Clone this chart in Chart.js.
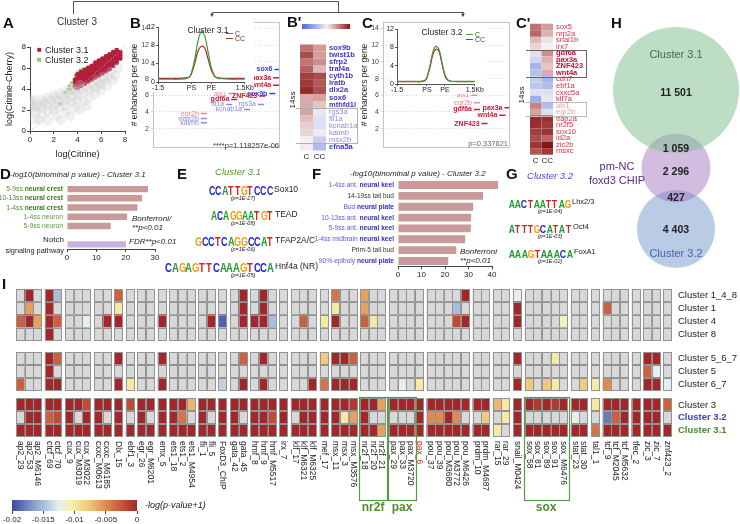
<!DOCTYPE html>
<html>
<head>
<meta charset="utf-8">
<title>Cluster 3</title>
<script src="https://cdn.jsdelivr.net/npm/chart.js@4.4.1/dist/chart.umd.min.js"></script>
<style>
  html, body { margin: 0; padding: 0; }
  body { width: 740px; height: 524px; position: relative; overflow: hidden; background: #fff;
         font-family: 'Liberation Sans', Arial, sans-serif; color: #222; }
  canvas { position: absolute; }
  .t { position: absolute; white-space: nowrap; line-height: 1; }
  .ln { position: absolute; background: #555; }
  .motif { position: absolute; white-space: nowrap; line-height: 1; }
  .motif span { display: inline-block; text-align: center; font-weight: bold; }
</style>
</head>
<body>
<script>
// ---------- A : scatter ----------
const grayCloud = [
  [0.2,2.2],[0.5,2.3],[0.8,2.5],[1.0,2.2],[1.2,2.7],[1.5,2.4],[1.8,2.9],[2.0,2.5],[2.2,3.1],[2.5,2.8],
  [2.8,3.3],[3.0,2.9],[3.2,3.6],[3.5,3.2],[3.8,3.8],[4.0,3.4],[4.3,4.0],[4.5,3.6],[4.8,4.2],[5.0,3.9],
  [5.3,4.4],[5.5,4.1],[5.8,4.6],[6.0,4.4],[6.3,4.9],[6.6,5.1],[0.5,1.8],[1.0,1.6],[1.5,1.9],[2.0,2.0],
  [2.5,2.2],[3.0,2.4],[3.5,2.7],[4.0,2.9],[1.0,3.0],[1.5,3.2],[2.0,3.4],[2.5,3.6],[3.0,3.8],[3.5,4.1],
  [0.3,1.2],[0.8,1.0],[1.5,1.0],[2.2,1.4],[3.0,1.8],[3.8,2.2],[4.5,2.8],[5.0,3.2],[5.5,3.5],[6.0,3.9],
  [6.5,4.3],[7.0,4.8],[0.1,2.6],[0.1,3.0],[0.4,2.9],[2.6,1.0],[3.4,1.4],[4.2,2.0],[4.8,2.4],[7.2,5.3],
  [6.8,5.6],[7.4,6.0],[6.2,5.2],[5.6,4.8],[4.2,4.4],[3.6,3.9]
];
const cluster31Pts = [
  [3.8,4.2],[3.8,4.6],[3.8,4.9],
  [4.0,4.1],[4.0,4.45],[4.0,4.8],[4.0,5.1],[4.0,5.4],
  [4.3,4.3],[4.3,4.65],[4.3,5.0],[4.3,5.3],[4.3,5.6],
  [4.6,4.5],[4.6,4.85],[4.6,5.2],[4.6,5.5],[4.6,5.8],
  [4.9,4.7],[4.9,5.05],[4.9,5.4],[4.9,5.7],[4.9,6.0],
  [5.2,4.9],[5.2,5.25],[5.2,5.6],[5.2,5.9],[5.2,6.2],
  [5.5,5.1],[5.5,5.5],[5.5,5.85],[5.5,6.2],[5.5,6.5],
  [5.8,5.3],[5.8,5.7],[5.8,6.05],[5.8,6.4],[5.8,6.7],
  [6.1,5.5],[6.1,5.9],[6.1,6.25],[6.1,6.6],[6.1,6.9],
  [6.4,5.7],[6.4,6.1],[6.4,6.45],[6.4,6.8],[6.4,7.1],
  [6.7,5.9],[6.7,6.3],[6.7,6.65],[6.7,7.0],[6.7,7.3],
  [7.0,6.2],[7.0,6.55],[7.0,6.9],[7.0,7.2],[7.0,7.5],
  [7.3,6.5],[7.3,6.8],[7.3,7.1],[7.3,7.4],[7.3,7.7],
  [7.6,6.9],[7.6,7.2],[7.6,7.5]
];
const cluster32Pts = [
  [3.3,4.3],[3.5,4.6],[3.7,4.8],[3.9,5.1],[4.1,5.4],[4.3,5.7],[3.6,4.3],[3.8,5.3],[4.0,5.6],[4.4,5.9],
  [3.4,4.0],[4.6,6.0],[3.2,4.0],[4.2,5.8],[2.5,2.6],[3.0,3.7]
];
const diagLine = [[0,0],[8,8]];

// ---------- B / C : enhancer profiles ----------
const profileX = [-1.5,-1.2,-0.9,-0.6,-0.3,-0.1,0,0.15,0.3,0.45,0.6,0.75,0.9,1.05,1.2,1.5,1.8,2.1,2.4];
const profileTicks = [-1.5, 0, 0.9, 2.4];
const profileTickLabels = ['-1.5', 'PS', 'PE', '1.5Kb'];
const b31C  = [0.6,0.6,0.6,0.6,0.7,1.0,2.0,5.0,9.0,11.0,10.0,6.5,3.0,1.3,0.8,0.7,0.6,0.6,0.6];
const b31CC = [0.8,0.8,0.8,0.8,0.9,1.1,1.8,4.0,6.8,7.8,7.4,5.0,2.5,1.2,0.9,0.8,0.8,0.8,0.8];
const c32C  = [0.6,0.6,0.6,0.6,0.6,0.8,1.5,4.0,7.0,8.2,7.6,4.8,2.0,0.9,0.6,0.6,0.6,0.6,0.6];
const c32CC = [0.5,0.5,0.5,0.5,0.5,0.7,1.3,3.6,6.5,7.6,7.2,4.5,1.8,0.8,0.6,0.5,0.5,0.5,0.5];

const bGenes = ['sox6','pax3a','wnt4a','sox9b','alx1','ZNF423','gdf6a','fli1a','rgs3a','kcnab1a','egr2b','msx2b','kalmb'];
const bEnh   = [9.1, 8.1, 7.2, 6.2, 6.2, 5.9, 5.5, 4.9, 4.9, 4.3, 3.8, 3.2, 2.7];
const bPos   = [0.98, 0.97, 0.97, 0.94, 0.62, 0.86, 0.64, 0.6, 0.85, 0.74, 0.4, 0.4, 0.4];
const bKind  = ['up','nc','nc','up','lo','nc','nc','dn','dn','dn','lo','dn','dn'];
const cGenes = ['alx1','egr2b','gdf6a','ZNF423','pax3a','wnt4a'];
const cEnh   = [6.0, 5.1, 4.3, 2.6, 4.5, 3.6];
const cPos   = [0.72, 0.74, 0.74, 0.8, 0.98, 0.94];
const cKind  = ['lo','lo','nc','nc','nc','nc'];

// ---------- B' / C' : heatmaps ----------
const bpGenes = ['sox9b','twist1b','sfrp2','traf4a','cyth1b','lratb','dlx2a','sox6','mthfd1l','rgs3a','fli1a','kcnab1a','kalmb','msx2b','efna5a'];
const bpC  = [5.3,6.0,5.2,5.6,6.2,6.3,6.6,4.4,4.4,4.5,4.1,3.9,3.8,3.4,3.3];
const bpCC = [4.6,4.6,4.8,4.2,6.0,5.7,5.9,4.5,4.0,3.2,3.0,3.0,3.5,2.6,2.2];
const cpGenes = ['sox5','nrp2a','snai1b','irx7','gdf6a','pax3a','ZNF423','wnt4a','cdh7','ebf1a','cxxc5a','klf7a','alx1','egr2b','tfap2a','nr2f5','sox10','id2a','zic2b','msxc'];
const cpC  = [5.3,5.5,4.2,3.8,3.0,2.8,2.0,2.3,2.6,2.4,3.0,1.8,5.0,4.5,6.6,6.5,6.2,6.0,6.4,5.8];
const cpCC = [4.6,4.3,3.6,3.4,4.8,4.3,4.0,4.4,2.0,2.2,3.0,3.2,2.2,3.0,6.5,6.3,6.4,5.5,7.5,6.3];
const heatCols = ['C', 'CC'];

// ---------- D / F : GREAT enrichments ----------
const dLabels = ['5-9ss neural crest','10-13ss neural crest','1-4ss neural crest','1-4ss neuron','5-9ss neuron','','Notch signaling pathway'];
const dValues = [27.6, 25.6, 24.0, 20.5, 14.9, null, 20.1];
const fLabels = ['1-4ss ant. neural keel','14-19ss tail bud','Bud neural plate','10-13ss ant. neural keel','5-9ss ant. neural keel','1-4ss midbrain neural keel','Prim-5 tail bud','90%-epiboly neural plate'];
const fValues = [42.6, 36.2, 32.0, 31.1, 31.0, 28.6, 24.8, 21.4];

// ---------- H : venn ----------
const vennNames = ['Cluster 3.1', 'pm-NC foxd3 CHIP', 'Cluster 3.2'];
const vennRegions = [11501, 1059, 2296, 427, 4403];
const vennCenterY = [90, 168, 229];

// ---------- I : motif heatmap ----------
const tfColumns = ['ap2_29','ap2_53','ap2_M6146','ctcf_69','ctcf_70','cux_9','cux_M3019','cux_M3022','cxxc_M0613','cxxc_M6185',
  'Dlx_15','ebf1_3','egr_26','egr_M6201','emx_5','ets1_18','ets1_2','ets1_M4954','fli_1','fli_5','FoxD3_ChIP','gata_42','gata_45',
  'hmf_8','hmf_9','hmf_M5517','irx_7','klf_17','klf_M6321','klf_M6325','mef_17','msx_11','msx_3','msx_M3576','nr2f_18','nr2f_20','nr2f_21',
  'pax_29','pax_33','pax_M3720','pax_6','pou_37','pou_39','pou_M3680','pou_M3772','pou_M6426','prdm_10','prdm_M4687','rar_15','rar_29',
  'snail_M0424','sox_58','sox_81','sox_89','sox_91','sox_M6476','stat_23','stat_30','tal1_1','tcf_9','tcf_M2045','tcf_M5632','tfec_2',
  'zic_3','zic_7','znf423_2'];
const tfGroups = [3,2,3,2,1,1,2,1,3,2,1,2,3,1,3,1,3,3,4,5,2,2,1,5,2,1,3,1,2,1];
const clusterRows = ['Cluster 1_4_8','Cluster 1','Cluster 4','Cluster 8','Cluster 5_6_7','Cluster 5','Cluster 6_7','Cluster 3','Cluster 3.2','Cluster 3.1'];
const rowBlocks = [4, 3, 3];
const N = null;
const c148 = [N,0,N, 0,-0.015, N,N,N, N,N, -0.003, N, N,N, N, N,N,N, N,N, N, N,0, N,0,N, N, N,N,N, N, -0.004,N,N, -0.006,N,N,
  N,N,N,N, N,N,N,N,0, N,N, N,N, -0.0125, N,N,N,N,N, N,N, N, N,N,N, N, N,N, N];
const c1 = [N,-0.006,N, 0,N, N,N,N, N,N, -0.01, N, N,N, N, N,N,N, N,N, N, N,0, N,0,N, N, N,N,N, N, -0.01,N,N, -0.006,N,N,
  N,N,N,N, N,N,N,-0.015,N, N,N, N,N, 0, N,N,N,N,N, N,N, N, -0.003,N,N, N, N,N, N];
const c4 = [-0.003,0,-0.006, 0,-0.003, N,N,-0.0125, N,0, 0, N, N,N, 0, N,N,N, N,0, -0.019, N,0, 0,0,-0.015, N, N,-0.003,N, -0.01, 0,N,N, -0.003,-0.01,N,
  N,N,N,N, N,N,N,-0.002,0, N,N, N,N, 0, N,N,N,N,-0.011, N,N, N, N,N,N, N, N,N, N];
const c8 = [N,N,N, 0,N, N,N,N, N,N, N, N, N,N, N, N,N,N, N,N, N, N,N, N,N,N, N, N,N,N, N, N,N,N, N,N,N,
  N,N,N,N, N,N,N,N,N, N,N, N,N, N, N,N,N,N,N, N,N, N, N,N,N, N, N,N, N];
const c567 = [N,N,N, 0,-0.003, N,N,N, N,N, 0, N, N,N, 0, N,N,N, N,N, N, N,-0.003, N,0,N, N, N,N,N, -0.008, 0,0,-0.003, N,N,N,
  N,N,N,N, N,N,N,N,N, N,N, N,N, 0, N,N,N,-0.01,N, N,N, N, N,N,N, N, 0,0, N];
const c5 = [N,N,N, 0,N, N,N,N, N,N, N, N, N,N, N, N,N,N, N,N, N, N,N, N,N,N, N, N,N,N, N, N,N,N, N,N,N,
  N,N,N,N, N,N,N,N,N, N,N, N,N, N, N,N,N,N,N, N,N, N, N,N,N, N, -0.003,-0.0125, N];
const c67 = [-0.003,N,N, 0,0, N,N,N, N,N, 0, -0.01, N,N, 0, N,N,N, N,N, -0.014, N,0, N,0,N, N, N,N,0, -0.004, 0,0,0, N,N,N,
  N,-0.0125,N,-0.01, N,N,N,N,N, N,N, N,N, 0, -0.008,N,-0.008,-0.01,N, N,-0.008, -0.01, -0.005,N,N, N, 0,0, -0.0125];
const c3 = [0,0,0, 0,0, 0,0,-0.002, 0,0, 0, -0.002, 0,0, 0, 0,0,-0.007, 0,0, 0, 0,0, 0,0,0, 0, 0,0,0, 0, 0,0,-0.001, 0,0,-0.006,
  0,0,0,0, 0,0,0,0,0, 0,0, -0.007,-0.01, 0, 0,-0.001,0,-0.001,0, 0,0, -0.01, 0,0,0, 0, 0,0, -0.003];
const c32 = [N,0,0, -0.003,-0.002, 0,N,0, 0,N, 0, N, 0,N, 0, 0,-0.004,N, 0,N, 0, 0,N, 0,0,-0.002, 0, N,0,0, 0, 0,-0.01,-0.006, 0,N,N,
  N,N,N,0, -0.005,-0.005,0,-0.005,N, N,-0.008, N,-0.01, 0, N,N,N,N,N, -0.012,N, N, -0.018,-0.003,0, 0, 0,0, N];
const c31 = [0,0,0, 0,0, 0,0,0, 0,0, 0, 0, 0,0, 0, 0,0,0, 0,0, 0, 0,0, 0,0,0, 0, 0,0,0, 0, 0,0,0, 0,0,-0.006,
  0,0,0,0, 0,0,0,0,0, 0,0, -0.01,N, 0, 0,0,0,0,0, 0,0, -0.004, 0,0,0, 0, 0,0, 0];
const heatRows = [c148, c1, c4, c8, c567, c5, c67, c3, c32, c31];
const boxedFamilies = ['nr2f', 'pax', 'sox'];
const heatTicks = [-0.02, -0.015, -0.01, -0.005, 0];

// ---------- helpers ----------
const FAMILY = "'Liberation Sans', Arial, sans-serif";
const fnt = (size, weight, style) => `${style || 'normal'} ${weight || 'normal'} ${size}px ${FAMILY}`;
Chart.defaults.font.family = FAMILY;
Chart.defaults.color = '#222';

const heatStops = [[-0.02,'#3b4d9e'],[-0.0155,'#9db4da'],[-0.0125,'#e4eff0'],[-0.0105,'#f6f2ae'],[-0.0075,'#efc277'],[-0.005,'#dd8b52'],[-0.0025,'#c55538'],[0,'#a3272a']];
const exprStops = [[0,'#4d68d8'],[2,'#a8b4ec'],[3.4,'#f4f0f2'],[5,'#c98080'],[7,'#861616']];

function hex(c) { return [1,3,5].map(i => parseInt(c.slice(i, i + 2), 16)); }
function ramp(stops, v) {
  if (v <= stops[0][0]) return stops[0][1];
  for (let i = 1; i < stops.length; i++) {
    if (v <= stops[i][0]) {
      const t = (v - stops[i-1][0]) / (stops[i][0] - stops[i-1][0]);
      const a = hex(stops[i-1][1]), b = hex(stops[i][1]);
      return `rgb(${a.map((x, k) => Math.round(x + (b[k] - x) * t)).join(',')})`;
    }
  }
  return stops[stops.length - 1][1];
}

// draws text items positioned with the chart scales
const labelsPlugin = {
  id: 'labels',
  afterDraw(chart, args, opts) {
    if (!opts.items) return;
    const ctx = chart.ctx, area = chart.chartArea;
    opts.items.forEach(it => {
      let px = it.edge === 'left' ? area.left : it.edge === 'right' ? area.right : chart.scales.x.getPixelForValue(it.x);
      let py = it.yEdge === 'bottom' ? area.bottom : chart.scales.y.getPixelForValue(it.y);
      px += it.dx || 0; py += it.dy || 0;
      const parts = it.parts || [{ text: it.text, color: it.color, font: it.font }];
      ctx.save();
      ctx.translate(px, py);
      if (it.rot) ctx.rotate(it.rot);
      if (it.sx) ctx.scale(it.sx, 1);
      ctx.textBaseline = 'middle';
      ctx.textAlign = 'left';
      let total = 0;
      parts.forEach(p => { ctx.font = p.font || it.font; total += ctx.measureText(p.text).width; });
      let x0 = it.align === 'right' ? -total : it.align === 'center' ? -total / 2 : 0;
      parts.forEach(p => {
        ctx.font = p.font || it.font;
        ctx.fillStyle = p.color || it.color || '#222';
        ctx.fillText(p.text, x0, 0);
        x0 += ctx.measureText(p.text).width;
      });
      ctx.restore();
    });
  }
};

// heatmap cells through the scales
const cellsPlugin = {
  id: 'cells',
  beforeDatasetsDraw(chart, args, opts) {
    if (!opts.items) return;
    const ctx = chart.ctx, xs = chart.scales.x, ys = chart.scales.y;
    ctx.save();
    opts.items.forEach(c => {
      const x0 = xs.getPixelForValue(c.x - 0.5), x1 = xs.getPixelForValue(c.x + 0.5);
      const y0 = ys.getPixelForValue(c.y - 0.5), y1 = ys.getPixelForValue(c.y + 0.5);
      ctx.fillStyle = c.v == null ? opts.na : opts.color(c.v);
      ctx.fillRect(x0, y0, x1 - x0, y1 - y0);
      if (opts.stroke) {
        ctx.strokeStyle = opts.stroke; ctx.lineWidth = 1;
        ctx.strokeRect(Math.round(x0) + 0.5, Math.round(y0) + 0.5, Math.round(x1 - x0) - 1, Math.round(y1 - y0) - 1);
      }
    });
    ctx.restore();
  }
};

const boxesPlugin = {
  id: 'boxes',
  afterDraw(chart, args, opts) {
    if (!opts.items) return;
    const ctx = chart.ctx, xs = chart.scales.x, ys = chart.scales.y, area = chart.chartArea;
    opts.items.forEach(b => {
      const x0 = xs.getPixelForValue(b.x0), x1 = xs.getPixelForValue(b.x1);
      const y0 = ys.getPixelForValue(b.y0);
      const y1 = b.below != null ? area.bottom + b.below : ys.getPixelForValue(b.y1);
      ctx.save();
      ctx.strokeStyle = b.color; ctx.lineWidth = b.width || 1;
      ctx.strokeRect(Math.round(x0) + 0.5, Math.round(y0) + 0.5, Math.round(x1 - x0), Math.round(y1 - y0));
      ctx.restore();
    });
  }
};

const framePlugin = {
  id: 'frame',
  afterDraw(chart, args, opts) {
    if (!opts.color) return;
    const a = chart.chartArea, ctx = chart.ctx;
    ctx.save(); ctx.strokeStyle = opts.color; ctx.lineWidth = 1;
    ctx.strokeRect(Math.round(a.left) + 0.5, Math.round(a.top) + 0.5, Math.round(a.right - a.left) - 1, Math.round(a.bottom - a.top) - 1);
    ctx.restore();
  }
};

const gradientPlugin = {
  id: 'gradient',
  beforeDatasetsDraw(chart, args, opts) {
    if (!opts.stops) return;
    const a = chart.chartArea, ctx = chart.ctx, xs = chart.scales.x;
    const g = ctx.createLinearGradient(a.left, 0, a.right, 0);
    opts.stops.forEach(([v, c]) => {
      const t = (xs.getPixelForValue(v) - a.left) / (a.right - a.left);
      g.addColorStop(Math.min(1, Math.max(0, t)), c);
    });
    ctx.save(); ctx.fillStyle = g; ctx.fillRect(a.left, a.top, a.right - a.left, a.bottom - a.top); ctx.restore();
  }
};

const whitePlugin = {
  id: 'white',
  beforeDraw(chart, args, opts) {
    if (opts.from == null) return;
    const ctx = chart.ctx;
    ctx.save(); ctx.fillStyle = '#fff'; ctx.fillRect(opts.from, 0, chart.width - opts.from, opts.to || chart.height); ctx.restore();
  }
};

Chart.register(labelsPlugin, cellsPlugin, boxesPlugin, framePlugin, gradientPlugin, whitePlugin);

function makeChart(left, top, width, height, config) {
  const c = document.createElement('canvas');
  c.width = width; c.height = height;
  c.style.left = left + 'px'; c.style.top = top + 'px';
  c.style.width = width + 'px'; c.style.height = height + 'px';
  document.body.appendChild(c);
  config.options = Object.assign({ responsive: false, animation: false, devicePixelRatio: 1, events: [] }, config.options);
  config.options.layout = Object.assign({ autoPadding: false }, config.options.layout);
  config.options.plugins = Object.assign({ legend: { display: false }, tooltip: { enabled: false } }, config.options.plugins);
  return new Chart(c, config);
}

const pts = arr => arr.map(([x, y]) => ({ x, y }));
const axisGrid = { display: true, drawOnChartArea: false, tickLength: 3, color: '#444' };

// ---------- A ----------
makeChart(4, 40, 126, 120, {
  type: 'scatter',
  data: { datasets: [
    { data: pts(grayCloud), pointRadius: 5, backgroundColor: 'rgba(200,200,200,0.28)', borderWidth: 0 },
    { type: 'line', data: pts(diagLine), borderColor: '#d8a0a8', borderWidth: 1, borderDash: [1, 2], pointRadius: 0 },
    { data: pts(cluster31Pts), pointRadius: 2.4, backgroundColor: '#b21f3c', borderWidth: 0 },
    { data: pts(cluster32Pts), pointRadius: 1.5, backgroundColor: '#8fc86a', borderWidth: 0 }
  ]},
  options: {
    layout: { padding: { top: 7, right: 5 } },
    scales: {
      x: { min: 0, max: 8, ticks: { stepSize: 2, font: { size: 8 }, padding: 1 }, grid: axisGrid, border: { color: '#444' },
           title: { display: true, text: 'log(Citrine)', font: { size: 9 }, padding: 0 }, afterFit: s => { s.height = 29; } },
      y: { min: 0, max: 8, ticks: { stepSize: 2, font: { size: 8 }, padding: 1 }, grid: axisGrid, border: { color: '#444' },
           title: { display: true, text: 'log(Citrine-Cherry)', font: { size: 9 }, padding: 0 }, afterFit: s => { s.width = 26; } }
    }
  }
});

// ---------- B / C outer strip plots ----------
const geneColor = { up: '#3d3de0', nc: '#d0163a', dn: '#8a8ae8', lo: '#e58a9a' };
const geneBold = { up: true, nc: true, dn: false, lo: false };
function stripChart(left, top, genes, enh, pos, kind) {
  makeChart(left, top, 152, 138, {
    type: 'scatter',
    data: { datasets: [{
      data: genes.map((g, i) => ({ x: pos[i], y: enh[i] })),
      pointStyle: 'line', pointRadius: 3, borderWidth: 1.5,
      borderColor: kind.map(k => geneColor[k])
    }]},
    options: {
      layout: { padding: { top: 4, right: 2, bottom: 4 } },
      scales: {
        x: { min: 0, max: 1, display: false },
        y: { min: -0.3, max: 14.76,
             afterBuildTicks: s => { s.ticks = [2, 4, 6, 8, 10, 12, 14].map(v => ({ value: v })); },
             ticks: { font: { size: 7 }, padding: 2, color: '#444' },
             grid: { color: '#d4d4d4', tickLength: 2 }, border: { display: false, dash: [1, 2] },
             title: { display: true, text: '# enhancers per gene', font: { size: 8.5 }, padding: 0 },
             afterFit: s => { s.width = 23; } }
      },
      plugins: {
        frame: { color: '#c4c4c4' },
        labels: { items: genes.map((g, i) => ({ x: pos[i], y: enh[i], dx: -5, align: 'right', text: g,
          color: geneColor[kind[i]], font: fnt(7, geneBold[kind[i]] ? 'bold' : 'normal') })) }
      }
    }
  });
}
stripChart(130, 16, bGenes, bEnh, bPos, bKind);
stripChart(360, 16, cGenes, cEnh, cPos, cKind);

function profileChart(left, top, width, yw, padTop, green, red) {
  makeChart(left, top, width, 73, {
    type: 'line',
    data: { datasets: [
      { data: profileX.map((x, i) => ({ x, y: green[i] })), borderColor: '#3f9a3a', borderWidth: 1.2, pointRadius: 0, tension: 0.35 },
      { data: profileX.map((x, i) => ({ x, y: red[i] })), borderColor: '#b12a2a', borderWidth: 1.2, pointRadius: 0, tension: 0.35 }
    ]},
    options: {
      layout: { padding: { top: padTop, right: 6 } },
      scales: {
        x: { type: 'linear', min: -1.5, max: 2.4,
             afterBuildTicks: s => { s.ticks = profileTicks.map(v => ({ value: v })); },
             ticks: { callback: v => profileTickLabels[profileTicks.indexOf(v)], font: { size: 7 }, padding: 0, maxRotation: 0, autoSkip: false },
             grid: { display: true, drawOnChartArea: false, tickLength: 2, color: '#555' }, border: { color: '#555' },
             afterFit: s => { s.height = 12; } },
        y: { min: 0, max: 12, ticks: { stepSize: 4, font: { size: 7 }, padding: 1 },
             grid: { display: true, drawOnChartArea: false, tickLength: 2, color: '#555' }, border: { color: '#555' },
             afterFit: s => { s.width = yw; } }
      },
      plugins: { white: { from: 7, to: 71 } }
    }
  });
}
profileChart(146, 21, 108, 12, 6, b31C, b31CC);
profileChart(384, 23, 100, 13, 6, c32C, c32CC);

// ---------- B' / C' ----------
function exprHeat(left, top, width, height, pad, genes, vC, vCC, styleOf, boxes) {
  const items = [];
  genes.forEach((g, i) => { items.push({ x: 0, y: i, v: vC[i] }); items.push({ x: 1, y: i, v: vCC[i] }); });
  const labelItems = genes.map((g, i) => Object.assign({ edge: 'right', y: i, dx: 3, text: g }, styleOf(i)));
  heatCols.forEach((c, k) => labelItems.push({ x: k, yEdge: 'bottom', dy: 6, text: c, align: 'center', font: fnt(8), color: '#222' }));
  makeChart(left, top, width, height, {
    type: 'scatter',
    data: { datasets: [{ data: items.map(c => ({ x: c.x, y: c.y })), pointRadius: 0 }] },
    options: {
      layout: { padding: pad },
      scales: { x: { min: -0.5, max: 1.5, display: false }, y: { min: -0.5, max: genes.length - 0.5, reverse: true, display: false } },
      plugins: { cells: { items, na: '#ddd', color: v => ramp(exprStops, v) }, labels: { items: labelItems }, boxes: { items: boxes } }
    }
  });
}
exprHeat(296, 44, 66, 115, { left: 4, right: 36, top: 0.5, bottom: 8.5 }, bpGenes, bpC, bpCC, i => {
  if (i >= 9 && i <= 13) return { color: '#8c8ce6', font: fnt(7.5) };
  return { color: '#4034d2', font: fnt(7.5, 'bold') };
}, [{ x0: -0.85, x1: 3.9, y0: 8.55, y1: 13.55, color: '#b0b0b0' }]);
exprHeat(526, 23, 76, 142, { left: 4, right: 49, top: 0.7, bottom: 10.3 }, cpGenes, cpC, cpCC, i => {
  if (i >= 4 && i <= 7) return { color: '#c8102e', font: fnt(7.5, 'bold') };
  if (i === 12 || i === 13) return { color: '#e8a0ac', font: fnt(7.5) };
  return { color: '#d8304a', font: fnt(7.5) };
}, [{ x0: -0.9, x1: 4.4, y0: 3.45, y1: 7.55, color: '#666' }, { x0: -0.9, x1: 4.4, y0: 11.45, y1: 13.55, color: '#bbb' }]);

// B' colour bar
makeChart(296, 20, 62, 18, {
  type: 'scatter', data: { datasets: [] },
  options: {
    layout: { padding: { left: 6, right: 8, top: 4 } },
    scales: {
      x: { min: 0, max: 6.6, afterBuildTicks: s => { s.ticks = [0, 2, 4, 6].map(v => ({ value: v })); },
           ticks: { font: { size: 7 }, padding: 0 }, grid: { display: false }, border: { display: false }, afterFit: s => { s.height = 9; } },
      y: { display: false, min: 0, max: 1 }
    },
    plugins: { gradient: { stops: exprStops } }
  }
});

// ---------- D ----------
const dColors = dLabels.map(l => l.startsWith('Notch') ? '#c8b4de' : '#c99a9a');
function richParts(label, stageColor, tissueColor, plainColor, size) {
  const m = label.match(/^(.*?)(neural crest|neural keel|neural plate)$/);
  if (m) return [{ text: m[1], color: stageColor, font: fnt(size) }, { text: m[2], color: tissueColor, font: fnt(size, 'bold') }];
  return [{ text: label, color: plainColor, font: fnt(size) }];
}
const dItems = [];
dLabels.forEach((l, i) => {
  if (!l) return;
  if (l.startsWith('Notch')) {
    dItems.push({ edge: 'left', y: i, dx: -3, dy: -5, align: 'right', text: 'Notch', font: fnt(8), color: '#222' });
    dItems.push({ edge: 'left', y: i, dx: -3, dy: 6, align: 'right', text: 'signaling pathway', font: fnt(8), color: '#222', sx: 0.92 });
  } else {
    dItems.push({ edge: 'left', y: i, dx: -4, align: 'right', sx: 0.9, parts: richParts(l, '#4f8f2f', '#3b7a1c', '#5a9a3a', 7.5) });
  }
});
makeChart(0, 180, 165, 90, {
  type: 'bar',
  data: { labels: dLabels, datasets: [{ data: dValues, backgroundColor: dColors, barPercentage: 0.7, categoryPercentage: 1 }] },
  options: {
    indexAxis: 'y',
    layout: { padding: { left: 67, right: 10, top: 4.5, bottom: 7 } },
    scales: {
      y: { display: false },
      x: { min: 0, max: 30, ticks: { stepSize: 10, font: { size: 8 }, padding: 1 }, grid: axisGrid, border: { color: '#444' }, afterFit: s => { s.height = 14; } }
    },
    plugins: { labels: { items: dItems } }
  }
});

// ---------- F ----------
const fItems = fLabels.map((l, i) => ({ edge: 'left', y: i, dx: -4, align: 'right', sx: 0.88, parts: richParts(l, '#5a5ad6', '#3030c4', '#333', 7.5) }));
makeChart(296, 176, 206, 104, {
  type: 'bar',
  data: { labels: fLabels, datasets: [{ data: fValues, backgroundColor: '#c99a9a', barPercentage: 0.72, categoryPercentage: 1, clip: false }] },
  options: {
    indexAxis: 'y',
    layout: { padding: { left: 102, right: 10, top: 3.6, bottom: 0 } },
    scales: {
      y: { display: false },
      x: { min: 0, max: 40, ticks: { stepSize: 10, font: { size: 8 }, padding: 1 }, grid: axisGrid, border: { color: '#444' }, afterFit: s => { s.height = 13.6; } }
    },
    plugins: { labels: { items: fItems } }
  }
});

// ---------- H ----------
const setSizes = [vennRegions[0] + vennRegions[1], vennRegions[1] + vennRegions[2] + vennRegions[3], vennRegions[3] + vennRegions[4]];
const rScale = 63 / Math.sqrt(setSizes[0]);
makeChart(590, 0, 150, 280, {
  type: 'bubble',
  data: { datasets: vennNames.map((n, i) => ({
    data: [{ x: 86, y: vennCenterY[i], r: rScale * Math.sqrt(setSizes[i]) }], clip: false,
    backgroundColor: ['rgba(128,192,142,0.52)', 'rgba(160,118,192,0.48)', 'rgba(118,152,205,0.5)'][i], borderWidth: 0
  }))},
  options: {
    layout: { padding: 0 },
    scales: { x: { min: 0, max: 150, display: false }, y: { min: 0, max: 280, reverse: true, display: false } }
  }
});

// ---------- I ----------
const colPos = [];
(() => { let ci = 0; tfGroups.forEach((n, g) => { for (let k = 0; k < n; k++) { colPos.push(ci + g * 0.355); ci++; } }); })();
const blockGaps = [0, 0.92, 0.6];
const rowPos = [];
(() => { let p = 0; rowBlocks.forEach((n, b) => { p += blockGaps[b]; for (let k = 0; k < n; k++) { rowPos.push(p); p++; } }); })();
const cellsI = [];
heatRows.forEach((row, r) => row.forEach((v, c) => cellsI.push({ x: colPos[c], y: rowPos[r], v })));
const iItems = [];
tfColumns.forEach((l, c) => iItems.push({ x: colPos[c], yEdge: 'bottom', dy: 4, rot: Math.PI / 2, text: l, font: fnt(8.5),
  color: l === 'pax_6' ? '#e0202a' : '#222' }));
clusterRows.forEach((l, r) => iItems.push({ edge: 'right', y: rowPos[r], dx: 6, text: l,
  font: fnt(9.5, l === 'Cluster 3.2' || l === 'Cluster 3.1' ? 'bold' : 'normal'),
  color: l === 'Cluster 3.2' ? '#3a3ad6' : l === 'Cluster 3.1' ? '#4a8a2a' : '#222' }));
const iBoxes = [];
boxedFamilies.forEach(fam => {
  const idx = tfColumns.map((l, i) => l.startsWith(fam + '_') && l !== 'pax_6' ? i : -1).filter(i => i >= 0);
  const x0 = colPos[idx[0]] - 0.62, x1 = colPos[idx[idx.length - 1]] + 0.62;
  iBoxes.push({ x0, x1, y0: rowPos[7] - 0.58, below: 63, color: '#5a9a44', width: 1.2 });
  iItems.push({ x: (x0 + x1) / 2, yEdge: 'bottom', dy: 71, align: 'center', text: fam, font: fnt(12, 'bold'), color: '#4f8f2f' });
});
makeChart(0, 280, 740, 244, {
  type: 'scatter',
  data: { datasets: [{ data: cellsI.map(c => ({ x: c.x, y: c.y })), pointRadius: 0 }] },
  options: {
    layout: { padding: { left: 16, right: 68, top: 9, bottom: 87 } },
    scales: { x: { min: -0.5, max: colPos[colPos.length - 1] + 0.5, display: false },
              y: { min: -0.5, max: rowPos[rowPos.length - 1] + 0.5, reverse: true, display: false } },
    plugins: { cells: { items: cellsI, na: '#d8d8d8', stroke: '#939393', color: v => ramp(heatStops, v) },
               labels: { items: iItems }, boxes: { items: iBoxes } }
  }
});

// I colour bar
makeChart(0, 496, 150, 28, {
  type: 'scatter', data: { datasets: [] },
  options: {
    layout: { padding: { left: 12, right: 13, top: 4 } },
    scales: {
      x: { min: -0.02, max: 0, afterBuildTicks: s => { s.ticks = heatTicks.map(v => ({ value: v })); },
           ticks: { font: { size: 8 }, padding: 1, callback: v => String(v) }, grid: axisGrid, border: { display: false }, afterFit: s => { s.height = 13; } },
      y: { display: false, min: 0, max: 1 }
    },
    plugins: { gradient: { stops: heatStops } }
  }
});

// ---------- text & decorations ----------
function txt(s, x, y, css, align, rot) {
  const d = document.createElement('div');
  d.className = 't'; d.innerHTML = s;
  d.style.left = x + 'px'; d.style.top = y + 'px';
  const tx = align === 'c' ? '-50%' : align === 'r' ? '-100%' : '0';
  d.style.transform = `translate(${tx},-50%)` + (rot ? ` rotate(${rot}deg)` : '');
  d.style.cssText += css || '';
  document.body.appendChild(d);
  return d;
}
function line(x, y, w, h, color) {
  const d = document.createElement('div'); d.className = 'ln';
  d.style.cssText += `left:${x}px;top:${y}px;width:${w}px;height:${h}px` + (color ? `;background:${color}` : '');
  document.body.appendChild(d);
}
const letterColor = { A: '#1e9a2e', C: '#2424d0', G: '#f0a010', T: '#d81e1e' };
function motif(seq, x, y, w, h) {
  const d = document.createElement('div'); d.className = 'motif';
  const fs = h * 1.3, slot = w / seq.length;
  d.style.left = x + 'px'; d.style.top = (y - 0.49 * fs) + 'px';
  d.innerHTML = seq.split('').map(ch => `<span style="width:${slot}px;font-size:${fs}px;color:${letterColor[ch]};transform:scaleX(${(slot / (0.72 * fs)).toFixed(2)})">${ch}</span>`).join('');
  document.body.appendChild(d);
}

// tree connectors
line(73, 1, 1, 13); line(73, 1, 266, 1); line(338, 1, 1, 12); line(212, 12, 252, 1);
txt('&#9660;', 212, 15, 'font-size:6px;color:#333', 'c'); txt('&#9660;', 463, 15, 'font-size:6px;color:#333', 'c');

const P = 'font-weight:bold;font-size:15px;color:#111';
txt('A', 3, 22, P); txt('B', 130, 22, P); txt("B'", 287, 21, P); txt('C', 362, 22, P); txt("C'", 516, 22, P); txt('H', 611, 22, P);
txt('D', 0, 173, P); txt('E', 177, 173, P); txt('F', 312, 173, P); txt('G', 506, 173, P); txt('I', 2, 283, P);
txt('Cluster 3', 77, 22, 'font-size:10px;color:#333', 'c');

// A legend
txt('&#9632;', 37, 50, 'font-size:8px;color:#b21f3c'); txt('Cluster 3.1', 45, 50, 'font-size:9px');
txt('&#9632;', 37, 60, 'font-size:8px;color:#8fc86a'); txt('Cluster 3.2', 45, 60, 'font-size:9px');

// B / C insets
txt('Cluster 3.1', 208, 30, 'font-size:8.5px', 'c');
line(226, 33, 7, 1, '#3f9a3a'); line(226, 38, 7, 1, '#b12a2a');
txt('C', 235, 33, 'font-size:7px;color:#444'); txt('CC', 235, 38, 'font-size:7px;color:#444');
txt('Cluster 3.2', 442, 32, 'font-size:8.5px', 'c');
line(466, 34, 7, 1, '#3f9a3a'); line(466, 39, 7, 1, '#b12a2a');
txt('C', 475, 34, 'font-size:7px;color:#444'); txt('CC', 475, 39, 'font-size:7px;color:#444');
txt('****p=1.118257e-06', 279, 146, 'font-size:7.5px;color:#333', 'r');
txt('p=0.337621', 508, 144, 'font-size:7.5px;color:#666', 'r');
txt('14ss', 293, 100, 'font-size:8px', 'c', -90);
txt('14ss', 522, 95, 'font-size:8px', 'c', -90);

// D / F titles and notes
txt('-log10(binominal p value) - Cluster 3.1', 10, 175, 'font-size:8px;font-style:italic');
txt('Bonferroni/', 132, 219, 'font-size:8px;font-style:italic');
txt('**p&lt;0.01', 132, 228, 'font-size:8px;font-style:italic');
txt('FDR**p&lt;0.01', 129, 242, 'font-size:8px;font-style:italic');
txt('-log10(binominal p value) - Cluster 3.2', 350, 174, 'font-size:8px;font-style:italic');
txt('Bonferroni', 460, 252, 'font-size:8px;font-style:italic');
txt('**p&lt;0.01', 460, 261, 'font-size:8px;font-style:italic');

// E motifs
txt('Cluster 3.1', 238, 172, 'font-size:9.5px;font-style:italic;color:#4f9a2f', 'c');
motif('CCATTGTCCC', 208, 188, 64, 10); txt('Sox10', 274, 189, 'font-size:8.5px');
txt('(p=1E-27)', 243, 199, 'font-size:5.5px;font-style:italic', 'c');
motif('ACAGGAATGT', 210, 213, 62, 10); txt('TEAD', 275, 214, 'font-size:8.5px');
txt('(p=1E-08)', 243, 224, 'font-size:5.5px;font-style:italic', 'c');
motif('GCCTCAGGCCAT', 194, 239, 79, 10); txt('TFAP2A/C', 275, 240, 'font-size:8.5px');
txt('(p=1E-06)', 243, 250, 'font-size:5.5px;font-style:italic', 'c');
motif('CAGAGTTCAAAGTCCA', 164, 265, 109, 10); txt('Hnf4a (NR)', 275, 266, 'font-size:8.5px');
txt('(p=1E-05)', 243, 276, 'font-size:5.5px;font-style:italic', 'c');

// G motifs
txt('Cluster 3.2', 550, 176, 'font-size:9.5px;font-style:italic;color:#4a4ad8', 'c');
motif('AACTAATTAG', 508, 201, 62, 9); txt('Lhx2/3', 572, 202, 'font-size:7.5px');
txt('(p=1E-04)', 550, 212, 'font-size:5.5px;font-style:italic', 'c');
motif('ATTTGCATAT', 508, 226, 63, 9); txt('Oct4', 573, 227, 'font-size:7.5px');
txt('(p=1E-03)', 550, 237, 'font-size:5.5px;font-style:italic', 'c');
motif('AAAGTAAACA', 508, 251, 64, 9); txt('FoxA1', 574, 252, 'font-size:7.5px');
txt('(p=1E-02)', 550, 262, 'font-size:5.5px;font-style:italic', 'c');

// H labels
const fmt = n => String(n).replace(/\B(?=(\d{3})+(?!\d))/g, ' ');
txt('Cluster 3.1', 676, 54, 'font-size:11px;color:#3e6e4a', 'c');
txt(fmt(vennRegions[0]), 676, 92, 'font-size:10.5px;font-weight:bold', 'c');
txt(fmt(vennRegions[1]), 676, 148, 'font-size:10.5px;font-weight:bold', 'c');
txt(fmt(vennRegions[2]), 676, 171, 'font-size:10.5px;font-weight:bold', 'c');
txt(fmt(vennRegions[3]), 676, 197, 'font-size:10.5px;font-weight:bold', 'c');
txt(fmt(vennRegions[4]), 676, 229, 'font-size:10.5px;font-weight:bold', 'c');
txt('Cluster 3.2', 676, 253, 'font-size:11px;color:#4a5fb0', 'c');
txt('pm-NC', 617, 166, 'font-size:11px;color:#5b2a8a', 'c');
txt('foxd3 CHIP', 617, 180, 'font-size:11px;color:#5b2a8a', 'c');

// I colour bar title
txt('-log(p-value+1)', 145, 505, 'font-size:9px;font-style:italic');
</script>
</body>
</html>
